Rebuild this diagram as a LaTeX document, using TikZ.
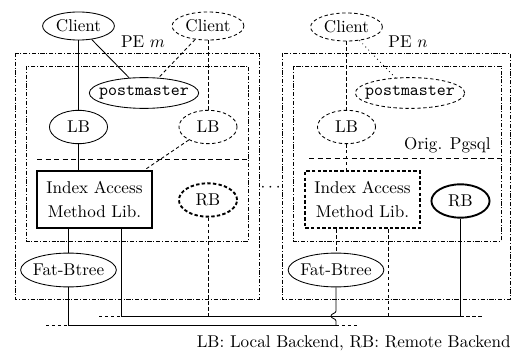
\documentclass[tikz,border=0pt]{standalone}
\usepackage{tikz}
\usepackage{amsmath}
\usetikzlibrary{shapes.geometric,calc}

\begin{document}
\begin{tikzpicture}[x=0.585pt, y=-0.585pt, line width=0.5pt,
  proc/.style={ellipse, draw, inner xsep=-4pt, inner ysep=0pt},
  clientnode/.style={proc, minimum width=42pt, minimum height=16.4pt},
  pmnode/.style={proc, minimum width=64pt, minimum height=18pt, font=\ttfamily},
  backend/.style={proc, minimum width=34pt, minimum height=19.5pt},
  fatnode/.style={proc, minimum width=56pt, minimum height=19.8pt},
  libbox/.style={draw, line width=1.1pt, minimum width=67pt, minimum height=33.6pt, align=center, inner sep=0pt},
  ghost/.style={dash pattern=on 2pt off 1.5pt},
  boldghost/.style={line width=1.1pt, dash pattern=on 2pt off 1.3pt},
  frame/.style={dash pattern=on 2.5pt off 1pt on 0.6pt off 1pt},
  split/.style={dash pattern=on 3pt off 2pt}]
  \useasboundingbox (0,0) rectangle (513,355);

  \draw[frame] (15,53) rectangle (259,299);
  \draw[frame] (26,66) rectangle (248,241);
  \draw[frame] (282,53) rectangle (510,299);
  \draw[frame] (293,66) rectangle (501,241);
  \draw[split] (37,159) -- (248,159);
  \draw[split] (309,158) -- (501,158);

  \node(pem) at (143,42) {PE $m$};
  \node(pen) at (408,42) {PE $n$};
  \node(orig) [anchor=east, inner sep=0pt] at (491,145) {Orig. Pgsql};
  \node(gap) at (272,188) {$\cdots$};
  \node(legend) [anchor=east, inner sep=0pt] at (511,343) {LB: Local Backend, RB: Remote Backend};

  \node(c1) [clientnode] at (78.5,26) {Client};
  \node(c2) [clientnode, ghost] at (208,26) {Client};
  \node(c3) [clientnode, ghost] at (346.5,27) {Client};
  \node(pm1) [pmnode] at (144,93) {postmaster};
  \node(pm2) [pmnode, ghost] at (410,93) {postmaster};
  \node(lb1) [backend] at (78.5,127) {LB};
  \node(lb2) [backend, ghost] at (208,127) {LB};
  \node(lb3) [backend, ghost] at (346.5,127) {LB};
  \node(idx1) [libbox] at (94.5,199.5) {Index Access\\[2pt]Method Lib.};
  \node(idx2) [libbox, dash pattern=on 2pt off 1.3pt] at (362.5,199.5) {Index Access\\[2pt]Method Lib.};
  \node(rb1) [backend, boldghost] at (208,200) {RB};
  \node(rb2) [backend, line width=1.1pt] at (460.5,201) {RB};
  \node(fb1) [fatnode] at (68.5,270) {Fat-Btree};
  \node(fb2) [fatnode] at (336,270) {Fat-Btree};

  \coordinate(up) at (0,316);
  \coordinate(lo) at (0,325);
  \coordinate(drop1) at (121,316);
  \coordinate(drop2) at (388,316);

  \draw (c1) -- (lb1);
  \draw (c1) -- (pm1);
  \draw[ghost] (c2) -- (pm1);
  \draw[ghost] (c2) -- (lb2);
  \draw (lb1) -- (lb1 |- idx1.north);
  \draw[ghost] (lb2) -- ($(idx1.north east)+(-8,0)$);
  \draw (fb1 |- idx1.south) -- (fb1);
  \draw[ghost] (c3) -- (lb3);
  \draw[dotted] (c3) -- (pm2);
  \draw[ghost] (lb3) -- (lb3 |- idx2.north);
  \draw[ghost] (fb2 |- idx2.south) -- (fb2);

  \draw (drop1 |- idx1.south) -- (drop1) -- (rb2 |- up);
  \draw[ghost] (99,316) -- (drop1);
  \draw[ghost] (rb2 |- up) -- (482,316);
  \draw[ghost] (rb1) -- (rb1 |- up);
  \draw[ghost] (drop2 |- idx2.south) -- (drop2);
  \draw (rb2) -- (rb2 |- up);
  \draw (fb1) -- (fb1 |- lo) -- (fb2 |- lo);
  \draw[ghost] (46,325) -- (fb1 |- lo);
  \draw[ghost] (fb2 |- lo) -- (358,325);
  \draw (fb2) -- ($(fb2 |- up)+(0,-5)$) .. controls +(0,2.5) and +(0,-2.5) .. ($(fb2 |- up)+(-5,0)$)
    .. controls +(0,2.5) and +(0,-2.5) .. ($(fb2 |- up)+(0,5)$) -- (fb2 |- lo);
\end{tikzpicture}
\end{document}
